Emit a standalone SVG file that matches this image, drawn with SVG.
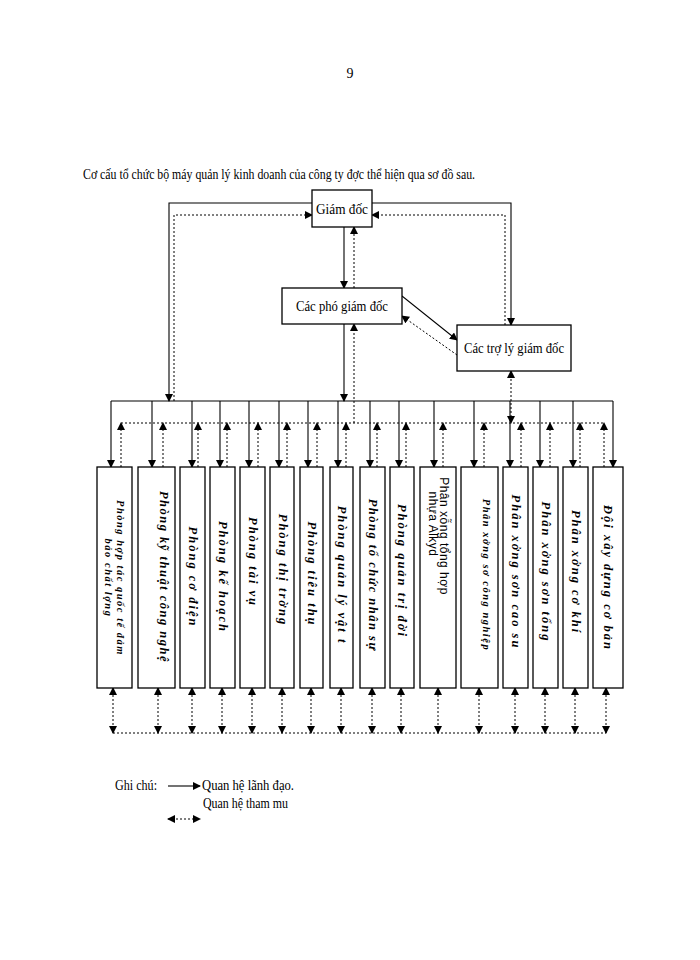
<svg xmlns="http://www.w3.org/2000/svg" width="700" height="960" viewBox="0 0 700 960">
<defs>
<marker id="a" markerWidth="8" markerHeight="8" refX="7" refY="4" orient="auto" markerUnits="userSpaceOnUse"><path d="M0,0 L8,4 L0,8 Z" fill="#000"/></marker>
<marker id="s" markerWidth="8" markerHeight="8" refX="1" refY="4" orient="auto" markerUnits="userSpaceOnUse"><path d="M8,0 L0,4 L8,8 Z" fill="#000"/></marker>
</defs>
<style>
text{font-family:"Liberation Serif",serif;fill:#000}
.t{font-size:14px}
.b{fill:#fff;stroke:#000;stroke-width:1.3}
.v{font-size:12.5px;font-weight:bold;font-style:italic;letter-spacing:2px}
.sl{fill:none;stroke:#000;stroke-width:1.1}
.dl{fill:none;stroke:#000;stroke-width:1;stroke-dasharray:2,2}
</style>
<rect width="700" height="960" fill="#fff"/>
<text x="350" y="78" class="t" text-anchor="middle">9</text>
<text x="83" y="179" class="t" textLength="392" lengthAdjust="spacingAndGlyphs">Cơ cấu tổ chức bộ máy quản lý kinh doanh của công ty đợc   thể hiện qua sơ đồ sau.</text>

<g id="connectors">
<polyline class="sl" points="312,203 169,203 169,401" marker-end="url(#a)"/>
<polyline class="dl" points="174,401 174,215 312,215" marker-end="url(#a)"/>
<polyline class="sl" points="372,203 511,203 511,325" marker-end="url(#a)"/>
<polyline class="dl" points="505,325 505,215 372,215" marker-end="url(#a)"/>
<line class="sl" x1="344" y1="227" x2="344" y2="288" marker-end="url(#a)"/>
<line class="dl" x1="354" y1="288" x2="354" y2="227" marker-end="url(#a)"/>
<line class="sl" x1="344" y1="324" x2="344" y2="401" marker-end="url(#a)"/>
<line class="dl" x1="354" y1="423" x2="354" y2="324" marker-end="url(#a)"/>
<line class="sl" x1="402" y1="296" x2="457" y2="340" marker-end="url(#a)"/>
<line class="dl" x1="457" y1="355" x2="402" y2="316" marker-end="url(#a)"/>
<line class="dl" x1="511" y1="371" x2="511" y2="423" marker-start="url(#s)" marker-end="url(#a)"/>
<line class="sl" x1="111" y1="401" x2="613" y2="401"/>
<line class="dl" x1="121" y1="423" x2="604" y2="423"/>
<g class="sl">
<line x1="111" y1="401" x2="111" y2="467" marker-end="url(#a)"/>
<line x1="152" y1="401" x2="152" y2="467" marker-end="url(#a)"/>
<line x1="192" y1="401" x2="192" y2="467" marker-end="url(#a)"/>
<line x1="220" y1="401" x2="220" y2="467" marker-end="url(#a)"/>
<line x1="249" y1="401" x2="249" y2="467" marker-end="url(#a)"/>
<line x1="279" y1="401" x2="279" y2="467" marker-end="url(#a)"/>
<line x1="308" y1="401" x2="308" y2="467" marker-end="url(#a)"/>
<line x1="338" y1="401" x2="338" y2="467" marker-end="url(#a)"/>
<line x1="370" y1="401" x2="370" y2="467" marker-end="url(#a)"/>
<line x1="399" y1="401" x2="399" y2="467" marker-end="url(#a)"/>
<line x1="434" y1="401" x2="434" y2="467" marker-end="url(#a)"/>
<line x1="474" y1="401" x2="474" y2="467" marker-end="url(#a)"/>
<line x1="510" y1="401" x2="510" y2="467" marker-end="url(#a)"/>
<line x1="540" y1="401" x2="540" y2="467" marker-end="url(#a)"/>
<line x1="573" y1="401" x2="573" y2="467" marker-end="url(#a)"/>
<line x1="613" y1="401" x2="613" y2="467" marker-end="url(#a)"/>
</g>
<g class="dl">
<line x1="121" y1="467" x2="121" y2="423" marker-end="url(#a)"/>
<line x1="163" y1="467" x2="163" y2="423" marker-end="url(#a)"/>
<line x1="198" y1="467" x2="198" y2="423" marker-end="url(#a)"/>
<line x1="227" y1="467" x2="227" y2="423" marker-end="url(#a)"/>
<line x1="258" y1="467" x2="258" y2="423" marker-end="url(#a)"/>
<line x1="287" y1="467" x2="287" y2="423" marker-end="url(#a)"/>
<line x1="317" y1="467" x2="317" y2="423" marker-end="url(#a)"/>
<line x1="346" y1="467" x2="346" y2="423" marker-end="url(#a)"/>
<line x1="377" y1="467" x2="377" y2="423" marker-end="url(#a)"/>
<line x1="406" y1="467" x2="406" y2="423" marker-end="url(#a)"/>
<line x1="443" y1="467" x2="443" y2="423" marker-end="url(#a)"/>
<line x1="484" y1="467" x2="484" y2="423" marker-end="url(#a)"/>
<line x1="521" y1="467" x2="521" y2="423" marker-end="url(#a)"/>
<line x1="550" y1="467" x2="550" y2="423" marker-end="url(#a)"/>
<line x1="580" y1="467" x2="580" y2="423" marker-end="url(#a)"/>
<line x1="604" y1="467" x2="604" y2="423" marker-end="url(#a)"/>
</g>
<line class="dl" x1="113" y1="733" x2="606" y2="733"/>
<g class="dl">
<line x1="113" y1="733" x2="113" y2="688" marker-start="url(#s)" marker-end="url(#a)"/>
<line x1="158" y1="733" x2="158" y2="688" marker-start="url(#s)" marker-end="url(#a)"/>
<line x1="192" y1="733" x2="192" y2="688" marker-start="url(#s)" marker-end="url(#a)"/>
<line x1="222" y1="733" x2="222" y2="688" marker-start="url(#s)" marker-end="url(#a)"/>
<line x1="252" y1="733" x2="252" y2="688" marker-start="url(#s)" marker-end="url(#a)"/>
<line x1="282" y1="733" x2="282" y2="688" marker-start="url(#s)" marker-end="url(#a)"/>
<line x1="311" y1="733" x2="311" y2="688" marker-start="url(#s)" marker-end="url(#a)"/>
<line x1="341" y1="733" x2="341" y2="688" marker-start="url(#s)" marker-end="url(#a)"/>
<line x1="372" y1="733" x2="372" y2="688" marker-start="url(#s)" marker-end="url(#a)"/>
<line x1="401" y1="733" x2="401" y2="688" marker-start="url(#s)" marker-end="url(#a)"/>
<line x1="438" y1="733" x2="438" y2="688" marker-start="url(#s)" marker-end="url(#a)"/>
<line x1="479" y1="733" x2="479" y2="688" marker-start="url(#s)" marker-end="url(#a)"/>
<line x1="515" y1="733" x2="515" y2="688" marker-start="url(#s)" marker-end="url(#a)"/>
<line x1="545" y1="733" x2="545" y2="688" marker-start="url(#s)" marker-end="url(#a)"/>
<line x1="575" y1="733" x2="575" y2="688" marker-start="url(#s)" marker-end="url(#a)"/>
<line x1="606" y1="733" x2="606" y2="688" marker-start="url(#s)" marker-end="url(#a)"/>
</g>
</g>

<g id="giam-doc"><rect class="b" x="312" y="190" width="60" height="37"/><text x="342" y="214" class="t" text-anchor="middle" textLength="52" lengthAdjust="spacingAndGlyphs">Giám đốc</text></g>
<g id="pho-giam-doc"><rect class="b" x="282" y="288" width="120" height="36"/><text x="342" y="311" class="t" text-anchor="middle" textLength="92" lengthAdjust="spacingAndGlyphs">Các phó giám đốc</text></g>
<g id="tro-ly"><rect class="b" x="457" y="325" width="114" height="46"/><text x="514" y="353" class="t" text-anchor="middle" textLength="100" lengthAdjust="spacingAndGlyphs">Các trợ lý giám đốc</text></g>

<g id="b1"><rect class="b" x="97" y="467" width="35" height="221"/><text class="v" transform="translate(114,578) rotate(90)" text-anchor="middle" style="font-size:10.5px;letter-spacing:1.5px"><tspan x="0" dy="-3">Phòng hợp tác quốc tế đảm</tspan><tspan x="0" dy="12">bảo chất lợng</tspan></text></g>
<g id="b2"><rect class="b" x="138" y="467" width="37" height="221"/><text class="v" transform="translate(160,577) rotate(90)" text-anchor="middle" style="letter-spacing:1.5px">Phòng kỹ thuật công nghệ</text></g>
<g id="b3"><rect class="b" x="180" y="467" width="25" height="221"/><text class="v" transform="translate(189,577) rotate(90)" text-anchor="middle">Phòng cơ điện</text></g>
<g id="b4"><rect class="b" x="210" y="467" width="25" height="221"/><text class="v" transform="translate(219,577) rotate(90)" text-anchor="middle">Phòng kế hoạch</text></g>
<g id="b5"><rect class="b" x="240" y="467" width="25" height="221"/><text class="v" transform="translate(249,562) rotate(90)" text-anchor="middle">Phòng tài vụ</text></g>
<g id="b6"><rect class="b" x="270" y="467" width="24" height="221"/><text class="v" transform="translate(279,570) rotate(90)" text-anchor="middle">Phòng thị trờng</text></g>
<g id="b7"><rect class="b" x="300" y="467" width="23" height="221"/><text class="v" transform="translate(308,574) rotate(90)" text-anchor="middle">Phòng tiêu thụ</text></g>
<g id="b8"><rect class="b" x="330" y="467" width="23" height="221"/><text class="v" transform="translate(338,575) rotate(90)" text-anchor="middle">Phòng quản lý vật t</text></g>
<g id="b9"><rect class="b" x="360" y="467" width="25" height="221"/><text class="v" transform="translate(369,575) rotate(90)" text-anchor="middle" style="letter-spacing:1.5px">Phòng tổ chức nhân sự</text></g>
<g id="b10"><rect class="b" x="390" y="467" width="24" height="221"/><text class="v" transform="translate(398,571) rotate(90)" text-anchor="middle">Phòng quản trị đời</text></g>
<g id="b11"><rect class="b" x="420" y="467" width="36" height="221"/><text transform="translate(438,536) rotate(90)" text-anchor="middle" style="font-family:'Liberation Sans',sans-serif;font-size:12px;letter-spacing:0.5px"><tspan x="0" dy="-2">Phân xỗng  tổng hợp</tspan><tspan x="-12" dy="11">nhựa Alkyd</tspan></text></g>
<g id="b12"><rect class="b" x="461" y="467" width="37" height="221"/><text class="v" transform="translate(483,575) rotate(90)" text-anchor="middle" style="font-size:10.5px;letter-spacing:1.5px">Phân xởng  sơ công nghiệp</text></g>
<g id="b13"><rect class="b" x="503" y="467" width="25" height="221"/><text class="v" transform="translate(512,572) rotate(90)" text-anchor="middle">Phân xởng  sơn cao su</text></g>
<g id="b14"><rect class="b" x="533" y="467" width="25" height="221"/><text class="v" transform="translate(542,572) rotate(90)" text-anchor="middle">Phân xởng  sơn tổng</text></g>
<g id="b15"><rect class="b" x="563" y="467" width="25" height="221"/><text class="v" transform="translate(572,572) rotate(90)" text-anchor="middle">Phân xởng  cơ khí</text></g>
<g id="b16"><rect class="b" x="593" y="467" width="30" height="221"/><text class="v" transform="translate(604,578) rotate(90)" text-anchor="middle">Đội xây dựng cơ bản</text></g>

<g id="legend">
<text x="115" y="790" class="t" textLength="42" lengthAdjust="spacingAndGlyphs">Ghi chú:</text>
<line class="sl" x1="168" y1="786" x2="200" y2="786" marker-end="url(#a)"/>
<text x="202" y="790" class="t" textLength="92" lengthAdjust="spacingAndGlyphs">Quan hệ lãnh đạo.</text>
<text x="203" y="808" class="t" textLength="85" lengthAdjust="spacingAndGlyphs">Quan hệ tham mu</text>
<line class="dl" x1="168" y1="819" x2="200" y2="819" marker-start="url(#s)" marker-end="url(#a)"/>
</g>
</svg>
